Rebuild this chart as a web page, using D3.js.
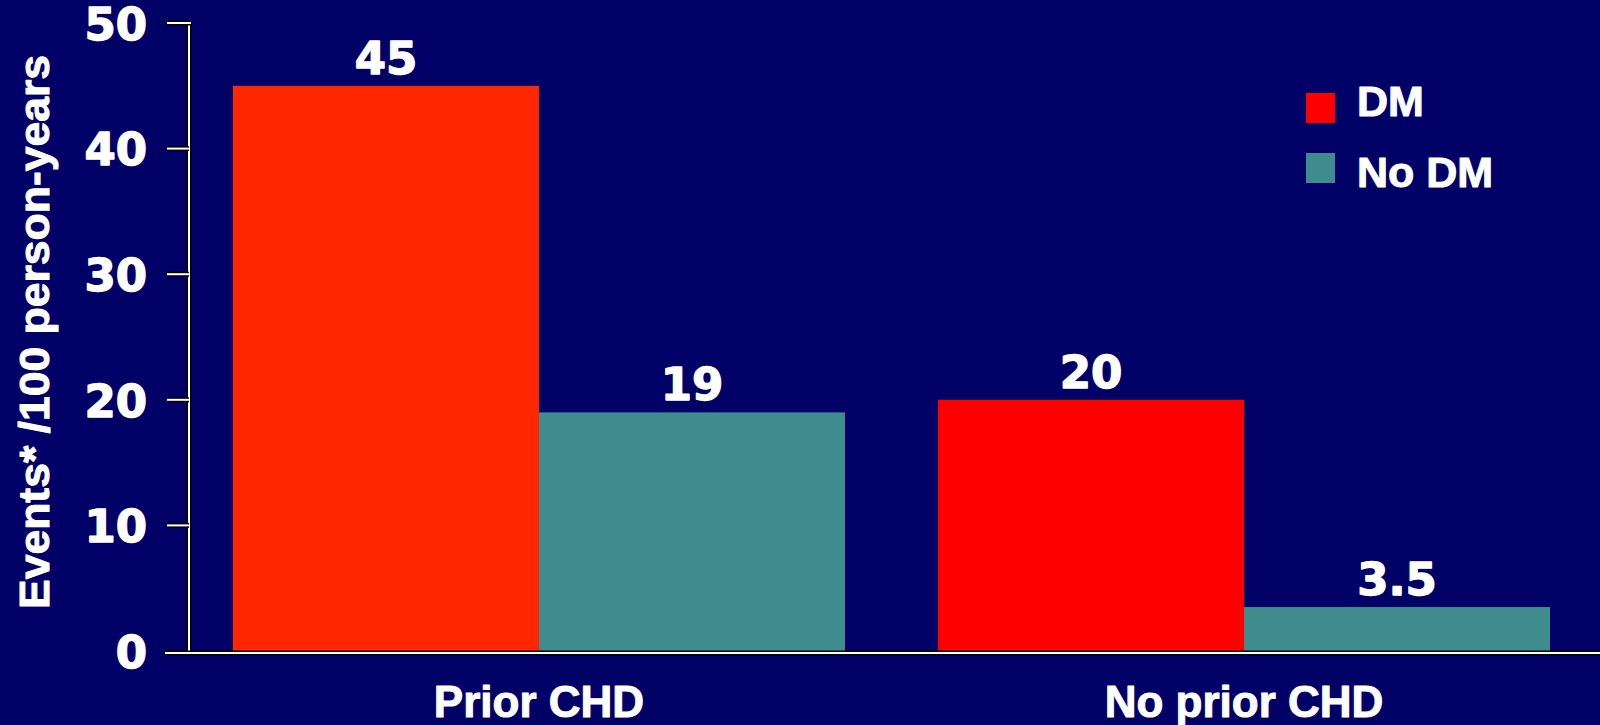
<!DOCTYPE html>
<html>
<head>
<meta charset="utf-8">
<script src="https://cdn.jsdelivr.net/npm/d3@7"></script>
<style>
  html, body { margin: 0; padding: 0; background: #000066; }
  svg { display: block; }
  text { stroke: #fff; stroke-linejoin: round; }
</style>
</head>
<body>
<svg id="chart" width="1600" height="725"></svg>
<script>
// Event rates per 100 person-years, by prior CHD and diabetes status
const categories = ["Prior CHD", "No prior CHD"];
const seriesNames = ["DM", "No DM"];
const dmValues = [45, 20];
const noDmValues = [19, 3.5];
const valueLabels = [["45", "19"], ["20", "3.5"]];
const yTicks = [0, 10, 20, 30, 40, 50];
const yTitle = "Events* /100 person-years";

// fills: the DM bar in the first group is a slightly orange red
const dmFills = ["#FF2600", "#FF0000"];
const noDmFill = "#3F8C8F";
const legendFills = ["#FF0000", "#3F8C8F"];

const svg = d3.select("#chart");
const W = 1600, H = 725;
svg.append("rect").attr("width", W).attr("height", H).attr("fill", "#000066");

const textFont = "'Liberation Sans', Arial, sans-serif";
const numFont = "'DejaVu Sans', 'Liberation Sans', sans-serif";

const x0 = d3.scaleBand().domain(categories).range([189, 1594])
  .paddingInner(0.132).paddingOuter(0.0624);
const x1 = d3.scaleBand().domain(seriesNames).range([0, x0.bandwidth()]).padding(0);
const y = d3.scaleLinear().domain([0, 50]).range([651, 23]);

const rows = categories.map((c, i) => ({
  cat: c,
  bars: [
    { s: "DM", v: dmValues[i], fill: dmFills[i], label: valueLabels[i][0] },
    { s: "No DM", v: noDmValues[i], fill: noDmFill, label: valueLabels[i][1] }
  ]
}));

const groups = svg.selectAll("g.grp").data(rows).join("g")
  .attr("class", "grp")
  .attr("transform", d => `translate(${x0(d.cat)},0)`);

groups.selectAll("rect").data(d => d.bars).join("rect")
  .attr("x", d => x1(d.s))
  .attr("y", d => y(d.v))
  .attr("width", x1.bandwidth())
  .attr("height", d => y(0) - y(d.v))
  .attr("fill", d => d.fill);

groups.selectAll("text.val").data(d => d.bars).join("text")
  .attr("class", "val")
  .attr("x", d => x1(d.s) + x1.bandwidth() / 2)
  .attr("y", d => y(d.v) - 12)
  .attr("text-anchor", "middle")
  .attr("fill", "#fff")
  .attr("stroke-width", 1.4)
  .style("font-family", numFont)
  .style("font-weight", "bold")
  .style("font-size", "45px")
  .text(d => d.label);

// axes: white strokes with a thin black outline
const axisX = 189;
function outlinedLine(g, x1p, y1p, x2p, y2p) {
  g.append("line").attr("x1", x1p).attr("y1", y1p).attr("x2", x2p).attr("y2", y2p)
    .attr("stroke", "#000").attr("stroke-width", 5);
  g.append("line").attr("x1", x1p).attr("y1", y1p).attr("x2", x2p).attr("y2", y2p)
    .attr("stroke", "#fff").attr("stroke-width", 2);
}
const axisG = svg.append("g");
outlinedLine(axisG, axisX, y(50), axisX, y(0) + 2);
yTicks.filter(t => t > 0).forEach(t => outlinedLine(axisG, 167, y(t), axisX + (t === 50 ? 2 : 0), y(t)));
outlinedLine(axisG, 165, y(0) + 2, 1600, y(0) + 2);

// y tick labels placed by the d3 axis generator
const yAxis = d3.axisLeft(y).tickValues(yTicks).tickSize(0).tickPadding(0).tickFormat(d3.format("d"));
const yAxisG = svg.append("g").attr("transform", "translate(147,0)").call(yAxis);
yAxisG.select(".domain").remove();
yAxisG.selectAll("text")
  .attr("fill", "#fff")
  .attr("stroke-width", 1.4)
  .attr("dy", "0.36em")
  .style("font-family", numFont)
  .style("font-weight", "bold")
  .style("font-size", "45px");

// y title
svg.append("text")
  .attr("transform", "translate(49,332) rotate(-90)")
  .attr("text-anchor", "middle")
  .attr("fill", "#fff")
  .attr("stroke-width", 1)
  .attr("textLength", 554)
  .attr("lengthAdjust", "spacingAndGlyphs")
  .style("font-family", textFont)
  .style("font-weight", "bold")
  .style("font-size", "42px")
  .text(yTitle);

// category labels
svg.selectAll("text.cat").data(categories).join("text")
  .attr("class", "cat")
  .attr("x", d => x0(d) + x0.bandwidth() / 2)
  .attr("y", 717)
  .attr("text-anchor", "middle")
  .attr("fill", "#fff")
  .attr("stroke-width", 1)
  .style("font-family", textFont)
  .style("font-weight", "bold")
  .style("font-size", "44px")
  .text(d => d);

// legend
const legend = svg.append("g");
const legY = [93, 153];
const legBase = [116, 187];
seriesNames.forEach((s, i) => {
  legend.append("rect").attr("x", 1306).attr("y", legY[i]).attr("width", 29).attr("height", 30)
    .attr("fill", legendFills[i]);
  legend.append("text").attr("x", 1357).attr("y", legBase[i])
    .attr("fill", "#fff")
    .attr("stroke-width", 1)
    .style("font-family", textFont)
    .style("font-weight", "bold")
    .style("font-size", "43px")
    .text(s);
});
</script>
</body>
</html>
